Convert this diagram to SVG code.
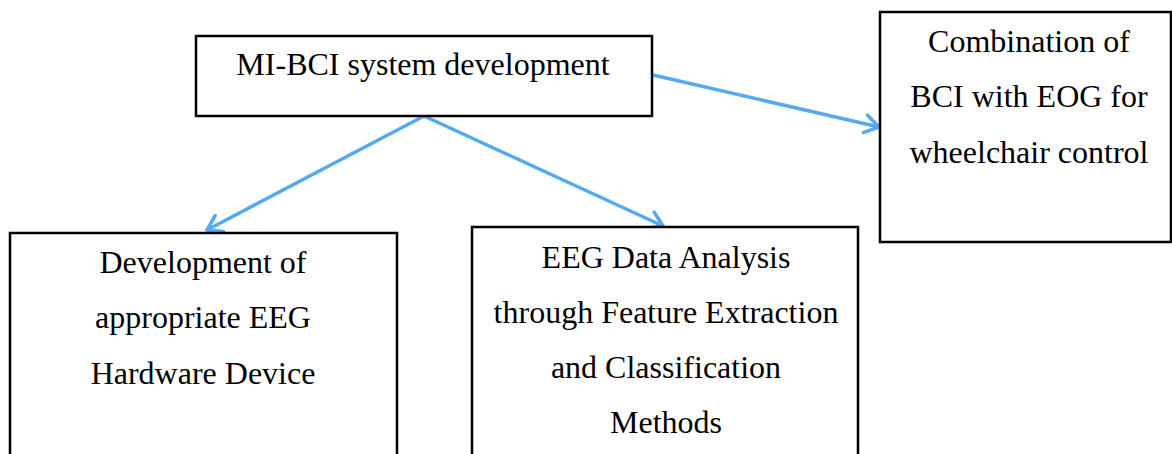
<svg xmlns="http://www.w3.org/2000/svg" width="1172" height="454" viewBox="0 0 1172 454">
  <defs>
    <style>
      .box { fill: #ffffff; stroke: #000000; stroke-width: 2.5; }
      .label { font-family: "Liberation Serif", "Times New Roman", serif; font-size: 32px; fill: #000000; text-anchor: middle; }
      .link { fill: none; stroke: #55a9ef; stroke-width: 3.5; stroke-linecap: round; }
    </style>
    <marker id="chevron" markerUnits="userSpaceOnUse" markerWidth="30" markerHeight="30" viewBox="-20 -15 30 30" refX="0" refY="0" orient="auto">
      <path d="M -14 -9 L 0 0 L -14 9" fill="none" stroke="#55a9ef" stroke-width="3.5" stroke-linecap="round" stroke-linejoin="round"/>
    </marker>
  </defs>
  <rect width="1172" height="454" fill="#ffffff"/>

  <g id="connectors">
    <line class="link" x1="424" y1="116" x2="207" y2="230" marker-end="url(#chevron)"/>
    <line class="link" x1="424" y1="116" x2="663" y2="226" marker-end="url(#chevron)"/>
    <line class="link" x1="653" y1="75" x2="879" y2="127" marker-end="url(#chevron)"/>
  </g>

  <g id="node-mibci">
    <rect class="box" x="196" y="36" width="456" height="80"/>
    <text class="label" x="423" y="75">MI-BCI system development</text>
  </g>

  <g id="node-combination">
    <rect class="box" x="880" y="12" width="291" height="230"/>
    <text class="label" x="1029" y="52">Combination of</text>
    <text class="label" x="1029" y="107">BCI with EOG for</text>
    <text class="label" x="1029" y="163">wheelchair control</text>
  </g>

  <g id="node-hardware">
    <rect class="box" x="10" y="233" width="387" height="240"/>
    <text class="label" x="203" y="273">Development of</text>
    <text class="label" x="203" y="328">appropriate EEG</text>
    <text class="label" x="203" y="384">Hardware Device</text>
  </g>

  <g id="node-analysis">
    <rect class="box" x="472" y="227" width="386" height="246"/>
    <text class="label" x="666" y="268">EEG Data Analysis</text>
    <text class="label" x="666" y="323">through Feature Extraction</text>
    <text class="label" x="666" y="378">and Classification</text>
    <text class="label" x="666" y="433">Methods</text>
  </g>
</svg>
